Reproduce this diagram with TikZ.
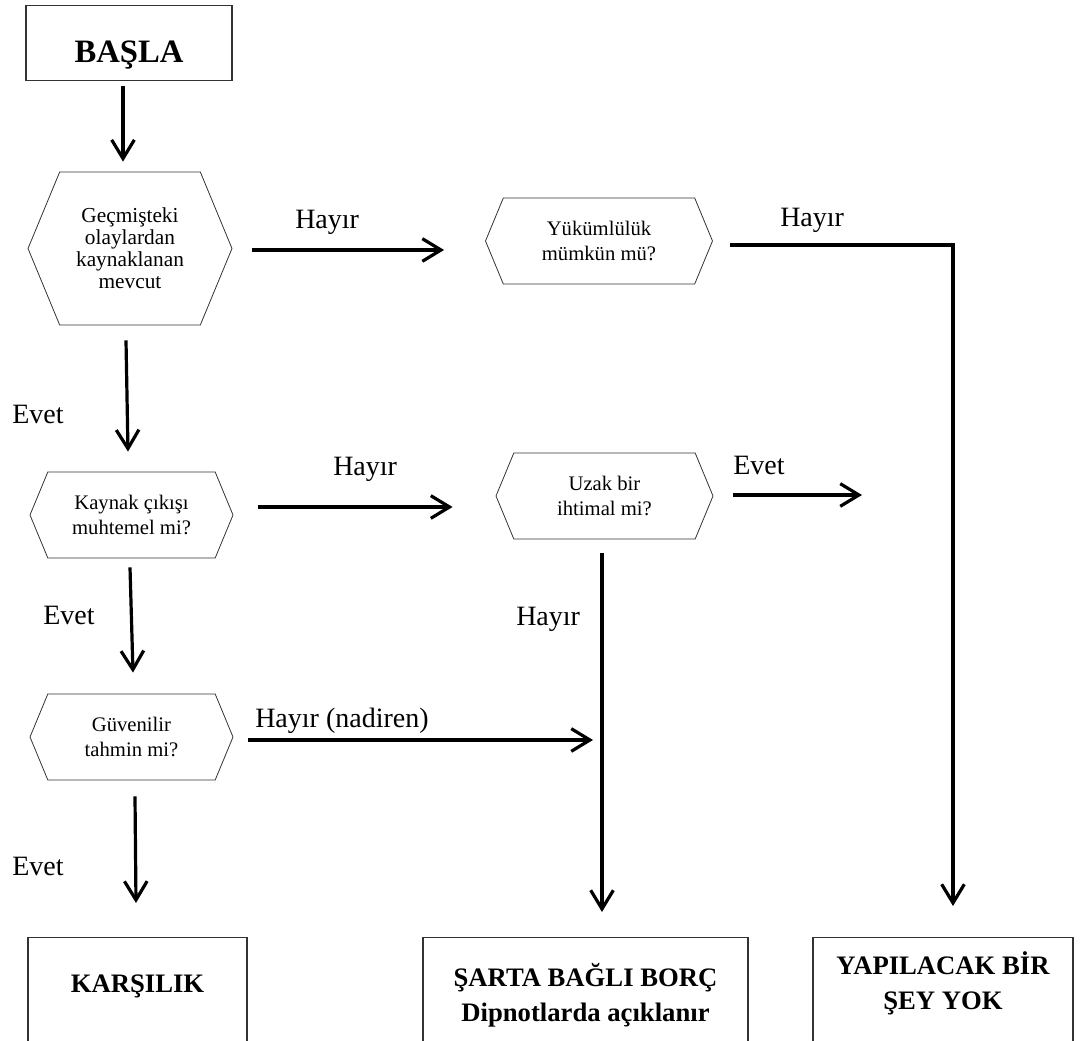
\documentclass[tikz,border=0pt]{standalone}
\usepackage{fontspec}
\setmainfont{Liberation Serif}
\usetikzlibrary{arrows.meta,shapes.symbols,calc}

\tikzset{
  startbox/.style={draw=black!80, line width=0.8pt, anchor=north, inner sep=0pt,
    minimum width=154.5pt, text height=42.75pt, text depth=13.5pt,
    font=\bfseries\fontsize{24.5}{28}\selectfont},
  hexbox/.style={draw=black!80, line width=0.6pt, signal, signal to=west and east,
    signal from=nowhere, signal pointer angle=135, inner sep=0pt, align=center,
    minimum height=64.5pt, font=\fontsize{15.5}{19}\selectfont},
  endbox/.style={draw=black!80, line width=0.8pt, anchor=north, minimum height=120pt},
  endtext/.style={align=center, inner sep=0pt, font=\bfseries\fontsize{20}{26}\selectfont},
  answer/.style={anchor=base west, inner sep=0pt, font=\fontsize{21}{25}\selectfont},
  flow/.style={line width=2.4pt, -{Straight Barb[length=14pt,width=17pt]}}
}

\begin{document}
\begin{tikzpicture}[x=0.75pt, y=-0.75pt]
% page of the original size
\useasboundingbox (0,0) rectangle (1083,1041);
% start
\node[startbox] (start) at (129,5) {BAŞLA};
% questions
\node[hexbox, minimum width=153pt, minimum height=114.75pt, font=\fontsize{16}{16.5}\selectfont] (past) at (130,248.5) {Geçmişteki\\olaylardan\\kaynaklanan\\mevcut};
\node[hexbox, minimum width=170.25pt] (possible) at (599,241) {Yükümlülük\\mümkün mü?};
\node[hexbox, minimum width=152.25pt] (likely) at (131.5,515) {Kaynak çıkışı\\muhtemel mi?};
\node[hexbox, minimum width=162.75pt] (remote) at (604.5,496) {Uzak bir\\ihtimal mi?};
\node[hexbox, minimum width=152.25pt] (reliable) at (131.5,737) {Güvenilir\\tahmin mi?};
% results, cut at the bottom of the page
\node[endbox, minimum width=164.25pt] (karsilik) at (137.5,937) {};
\node[endbox, minimum width=243.75pt] (sarta) at (585.5,937) {};
\node[endbox, minimum width=195pt] (yapilacak) at (943,937) {};
\node[endtext, anchor=base] (karsiliktxt) at (137.5,992) {KARŞILIK};
\node[endtext] (sartatxt) at (585.5,995) {ŞARTA BAĞLI BORÇ\\Dipnotlarda açıklanır};
\node[endtext] (yapilacaktxt) at (943,983) {YAPILACAK BİR\\ŞEY YOK};
% free ends
\coordinate (evetend) at (862,495);
\coordinate (join) at (593,740);
% arrows down the left column
\draw[flow] ([shift={(-6,5)}]start.south) -- ([shift={(-7,-10)}]past.north);
\draw[flow] ([shift={(-4,15)}]past.south) -- ([shift={(-3.5,-20)}]likely.north);
\draw[flow] ([shift={(-1.5,9)}]likely.south) -- ([shift={(1.5,-21)}]reliable.north);
\draw[flow] ([shift={(3.5,16)}]reliable.south) -- ([shift={(-1.5,-34)}]karsilik.north);
% arrows to the right
\draw[flow] ([shift={(20,1.5)}]past.east) -- ([shift={(-41,9)}]possible.west);
\draw[flow] ([shift={(17,4)}]possible.east) -| ([shift={(10,-31)}]yapilacak.north);
\draw[flow] ([shift={(25,-8)}]likely.east) -- ([shift={(-43,11)}]remote.west);
\draw[flow] ([shift={(20,-1)}]remote.east) -- (evetend);
\draw[flow] ([shift={(-2.5,14)}]remote.south) -- ([shift={(16.5,-25)}]sarta.north);
\draw[flow] ([shift={(15,3)}]reliable.east) -- (join);
% answers
\node[answer] (no1) at (295,229) {Hayır};
\node[answer] (no2) at (780,227) {Hayır};
\node[answer] (no3) at (333,476) {Hayır};
\node[answer] (yes4) at (733,475) {Evet};
\node[answer] (no4) at (516,625) {Hayır};
\node[answer] (no5) at (255,727) {Hayır (nadiren)};
\node[answer] (yes1) at (12,424) {Evet};
\node[answer] (yes2) at (43,624) {Evet};
\node[answer] (yes3) at (12,875) {Evet};
\end{tikzpicture}
\end{document}
